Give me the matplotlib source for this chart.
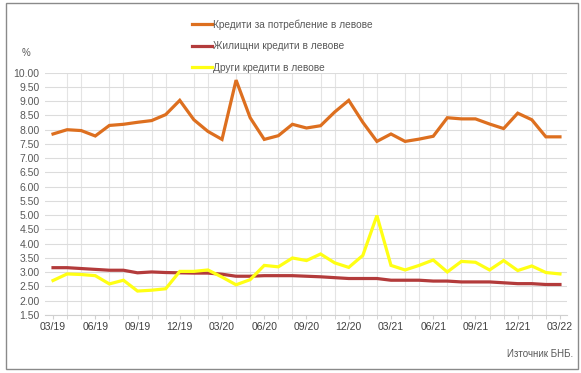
#!/usr/bin/env python3
"""
Лихвени проценти по кредити в левове (БНБ)
"""

import matplotlib
matplotlib.use("Agg")
import matplotlib.pyplot as plt
from matplotlib.patches import Rectangle
from matplotlib.ticker import MultipleLocator, FixedLocator

# месеци 03/19 ... 03/22
months = [f"{m:02d}/{y:02d}" for y in (19, 20, 21, 22) for m in range(1, 13)][2:39]

consumer = [7.85, 8.00, 7.97, 7.78, 8.15, 8.19, 8.26, 8.32, 8.53, 9.03,
            8.35, 7.94, 7.66, 9.74, 8.42, 7.66, 7.79, 8.19, 8.06, 8.14,
            8.62, 9.03, 8.26, 7.59, 7.85, 7.59, 7.67, 7.77, 8.42, 8.38,
            8.38, 8.20, 8.04, 8.58, 8.35, 7.75, 7.75]

housing = [3.16, 3.16, 3.13, 3.10, 3.07, 3.07, 2.98, 3.01, 2.99, 2.98,
           2.97, 2.97, 2.93, 2.86, 2.86, 2.88, 2.88, 2.88, 2.86, 2.84,
           2.81, 2.78, 2.78, 2.78, 2.72, 2.72, 2.72, 2.69, 2.69, 2.66,
           2.66, 2.66, 2.63, 2.60, 2.60, 2.57, 2.57]

other = [2.71, 2.94, 2.92, 2.88, 2.59, 2.72, 2.34, 2.37, 2.42, 3.03,
         3.03, 3.08, 2.83, 2.56, 2.74, 3.24, 3.19, 3.50, 3.41, 3.64,
         3.33, 3.17, 3.59, 4.99, 3.24, 3.08, 3.24, 3.43, 3.01, 3.38,
         3.35, 3.08, 3.41, 3.06, 3.22, 2.99, 2.94]

series_names = ["Кредити за потребление в левове",
                "Жилищни кредити в левове",
                "Други кредити в левове"]
series_colors = ["#DD6F1F", "#B33B3B", "#FFFF14"]

plt.rcParams['font.family'] = ['Liberation Sans', 'DejaVu Sans']

fig = plt.figure(figsize=(5.81, 3.73), dpi=100)
ax = fig.add_axes([45 / 581, 1 - 315 / 373, (567 - 45) / 581, (315 - 72.7) / 373])

x = list(range(len(months)))
lines = []
for vals, name, col in zip([consumer, housing, other], series_names, series_colors):
    ln, = ax.plot(x, vals, color=col, linewidth=2.3, label=name,
                  solid_joinstyle='miter', zorder=3)
    lines.append(ln)

ax.set_ylim(1.5, 10.0)
ax.set_xlim(-0.57, len(months) - 0.5)
ax.yaxis.set_major_locator(MultipleLocator(0.5))
ax.yaxis.set_major_formatter(lambda v, p: f"{v:.2f}")
ax.xaxis.set_major_locator(FixedLocator(x[::3]))
ax.set_xticklabels(months[::3])
ax.xaxis.set_minor_locator(FixedLocator(x))

# мрежа
ax.grid(True, which='major', axis='y', color='#dcdcdc', linewidth=0.8)
ax.grid(True, which='minor', axis='x', color='#e4e4e4', linewidth=0.8)
ax.set_axisbelow(True)
for s in ['top', 'right', 'left']:
    ax.spines[s].set_visible(False)
ax.spines['bottom'].set_color('#d0d0d0')
ax.tick_params(axis='y', length=0, labelsize=7.5, labelcolor='#595959', pad=4)
ax.tick_params(axis='x', which='both', length=3, color='#d0d0d0',
               labelsize=7.5, labelcolor='#404040', pad=2)

fig.text(22 / 581, 1 - 53 / 373, "%", fontsize=7, color='#595959',
         ha='left', va='center')

leg = fig.legend(handles=lines, loc='upper left', bbox_to_anchor=(188 / 581, 1 - 15 / 373),
                 ncol=1, frameon=False, fontsize=7.3, handlelength=2.0,
                 handletextpad=0.1, labelspacing=1.15, borderaxespad=0)
for t in leg.get_texts():
    t.set_color('#595959')

fig.text(573 / 581, 1 - 354 / 373, "Източник БНБ.", fontsize=7, color='#595959',
         ha='right', va='center')

# рамка
fig.patches.append(Rectangle((6 / 581, 1 - 369 / 373), (578 - 6) / 581, (369 - 3) / 373,
                             transform=fig.transFigure, fill=False,
                             edgecolor='#8a8a8a', linewidth=1.0))

plt.savefig("out.png", dpi=100)
plt.close()
